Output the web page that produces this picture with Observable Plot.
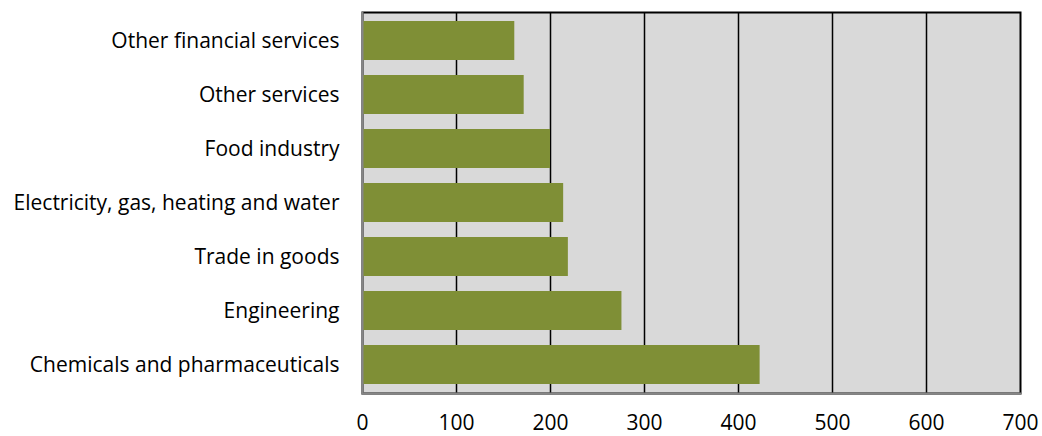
<!DOCTYPE html>
<html>
<head>
<meta charset="utf-8">
<script src="https://cdn.jsdelivr.net/npm/d3@7"></script>
<script src="https://cdn.jsdelivr.net/npm/@observablehq/plot@0.6"></script>
<style>
  body { margin: 0; background: #fff; }
</style>
</head>
<body>
<div id="chart"></div>
<script>
// Sectors, top to bottom
const sectors = [
  "Other financial services",
  "Other services",
  "Food industry",
  "Electricity, gas, heating and water",
  "Trade in goods",
  "Engineering",
  "Chemicals and pharmaceuticals"
];
const values = [162, 172, 200, 214, 219, 276, 423];
const xTicks = [0, 100, 200, 300, 400, 500, 600, 700];

const data = sectors.map((sector, i) => ({ sector, value: values[i] }));

const chart = Plot.plot({
  width: 1042,
  height: 436,
  marginLeft: 362,
  marginRight: 22,
  marginTop: 12,
  marginBottom: 43,
  style: { fontFamily: "'Open Sans'", fontSize: "21px", color: "#000", background: "#fff" },
  x: { domain: [0, 700], ticks: xTicks, label: null },
  y: { domain: sectors, paddingInner: 0.28, paddingOuter: 0.14, label: null },
  marks: [
    Plot.frame({ fill: "#d9d9d9", stroke: "#000", strokeWidth: 2 }),
    Plot.ruleX(xTicks.slice(1, -1), { stroke: "#000", strokeWidth: 1.5 }),
    Plot.barX(data, { x: "value", y: "sector", fill: "#7f8f36" }),
    Plot.frame({ anchor: "left", stroke: "#868686", strokeWidth: 2 }),
    Plot.frame({ anchor: "bottom", stroke: "#868686", strokeWidth: 2 }),
    Plot.axisX({ ticks: xTicks, tickSize: 0, tickPadding: 22, label: null }),
    Plot.axisY({ tickSize: 0, tickPadding: 23, label: null })
  ]
});

document.getElementById("chart").appendChild(chart);
</script>
</body>
</html>
